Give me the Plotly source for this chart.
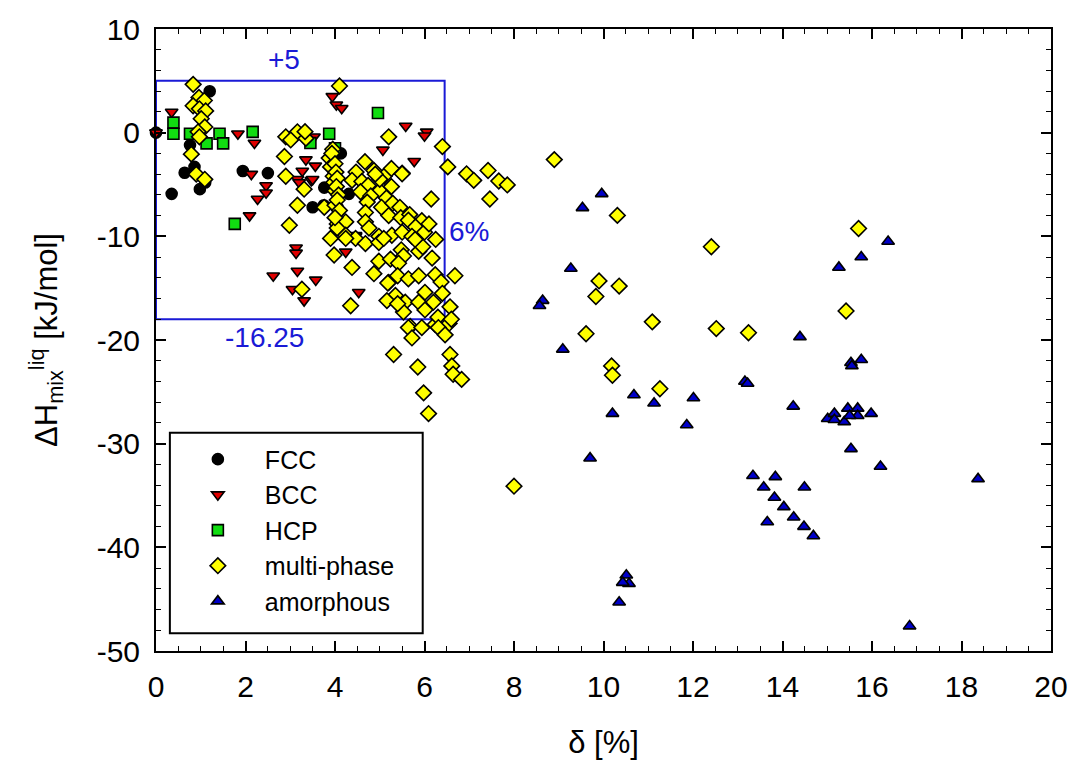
import plotly.graph_objects as go

# ---------------- data ----------------
fcc_x = [0.0, 0.35, 1.2, 0.76, 0.64, 0.98, 1.1, 0.86, 1.94, 2.5, 3.5, 4.13, 3.76, 4.31, 3.75]
fcc_y = [0.0, -5.9, 4.0, -1.2, -3.87, -5.45, -4.8, -3.3, -3.7, -3.9, -7.2, -2.0, -5.3, -5.9, -7.0]

bcc_x = [0.0, 0.35, 1.83, 2.2, 2.13, 2.46, 2.27, 2.46, 2.09, 3.53, 3.35, 3.16, 3.47, 3.2,
         3.94, 4.03, 4.15, 5.58, 6.05, 6.0, 5.07, 5.77, 3.56, 3.27, 3.5, 4.46, 4.24, 3.57,
         4.53, 3.13, 3.13, 2.62, 3.16, 3.05, 3.31, 4.46]
bcc_y = [0.0, 2.0, -0.1, -1.0, -4.0, -5.1, -6.4, -5.8, -8.0, -0.4, -2.6, -4.5, -4.6, -4.8,
         3.5, 2.7, 2.35, 0.65, 0.08, -0.3, -1.66, -2.76, -3.2, -3.7, -4.5, -9.9, -11.5, -14.2,
         -15.4, -11.1, -11.6, -13.8, -13.35, -15.1, -16.2, -10.0]

hcp_x = [0.39, 0.39, 0.76, 1.13, 1.42, 1.5, 2.16, 1.76, 3.45, 4.96, 3.87, 4.0]
hcp_y = [0.97, -0.1, -0.1, -1.03, -0.1, -1.03, 0.08, -8.8, -1.0, 1.9, -0.1, -1.5]

multi_x = [
    0.83, 0.96, 1.08, 0.83, 0.97, 1.11, 1.01, 1.09, 0.94, 0.97, 0.79, 0.90, 1.09,
    2.9, 3.16, 3.01, 3.35, 2.87, 2.9, 3.31, 3.16, 2.98, 3.33, 3.26,
    4.1, 5.2, 6.4, 6.52, 6.94, 7.1, 6.15, 5.5, 7.42, 7.66, 7.85, 7.46, 8.9,
    3.87, 3.9, 3.96, 3.97, 4.0, 3.76, 4.0, 4.05, 4.24, 3.9, 4.05, 4.24, 4.46, 3.98, 4.24,
    3.95, 3.93, 4.0, 4.02, 4.05, 4.03, 4.08, 4.05, 4.1, 4.0,
    4.67, 4.47, 4.38, 4.6, 4.87, 5.1, 5.26, 5.5, 4.74, 4.57, 5.0, 5.26, 4.8, 4.72, 5.15,
    5.04, 5.29, 5.45, 4.68, 5.2, 5.47, 5.67, 5.64, 5.94, 5.8, 4.68, 4.76, 4.98, 5.27, 5.5,
    5.72, 6.0, 5.0, 4.9, 6.1, 6.25,
    4.38, 4.87, 4.35, 4.68, 4.98, 5.09, 5.48, 4.98, 5.24, 5.53, 5.87, 5.96, 6.17, 5.79,
    5.42, 5.2, 5.4, 5.64, 5.87, 6.24, 6.01, 6.2, 6.37, 6.4, 5.35, 5.57, 5.87, 5.53, 5.68,
    6.01, 6.24, 6.55, 6.3, 5.16, 5.18, 5.4,
    6.68, 6.57, 6.6, 5.64, 5.94, 6.31, 6.46, 5.72, 5.31, 5.85, 6.57, 6.61, 6.64, 6.83,
    5.98, 6.09,
    10.31, 12.41, 9.9, 10.35, 9.83, 11.09, 12.52, 13.24, 9.61, 10.18, 10.2, 11.26,
    15.7, 15.42, 8.0]
multi_y = [
    4.66, 3.4, 3.1, 2.6, 2.3, 2.1, 1.34, 0.55, 0.08, -0.4, -2.07, -4.0, -4.5,
    -0.4, 0.08, -0.7, -0.55, -2.3, -4.2, -5.45, -7.0, -8.93, 0.1, -15.1,
    4.5, -0.4, -1.34, -3.3, -3.97, -4.6, -6.4, -3.9, -3.65, -4.66, -5.04, -6.4, -2.6,
    -2.45, -3.3, -4.2, -4.8, -5.6, -7.2, -7.0, -8.8, -8.6, -10.2, -9.2, -9.9, -10.2, -11.8, -10.2,
    -1.6, -2.0, -3.0, -3.8, -4.4, -5.2, -6.0, -6.5, -7.5, -8.2,
    -2.8, -3.8, -4.6, -4.7, -3.65, -4.2, -3.46, -3.97, -5.1, -5.7, -5.6, -5.2, -6.1, -6.7, -6.3,
    -7.2, -6.8, -7.2, -7.7, -8.0, -8.2, -7.9, -8.45, -8.5, -9.1, -8.6, -9.2, -10.0, -9.9, -9.6,
    -10.0, -9.6, -4.5, -4.0, -8.8, -10.3,
    -13.0, -13.6, -16.7, -10.7, -10.6, -10.2, -11.3, -12.4, -12.2, -11.9, -11.45, -11.0, -12.1, -10.3,
    -12.6, -14.45, -13.8, -14.1, -13.8, -13.7, -15.4, -16.35, -14.4, -15.5, -15.7, -16.35, -16.35, -17.3, -18.7,
    -17.1, -18.5, -18.4, -17.8, -16.2, -14.5, -16.5,
    -13.8, -16.8, -18.0, -18.8, -18.8, -18.8, -19.5, -19.8, -21.4, -22.6, -21.4, -22.5, -23.3, -23.8,
    -25.1, -27.1,
    -7.98, -11.0, -14.3, -14.8, -15.8, -18.25, -18.9, -19.3, -19.4, -22.5, -23.4, -24.7,
    -9.24, -17.2, -34.1]

amor_x = [9.96, 9.53, 9.27, 8.64, 8.57, 9.09, 10.68, 11.13, 12.01, 10.2, 11.86, 13.16, 13.22,
          16.36, 15.76, 15.26, 14.39, 15.53, 15.76, 15.55, 14.24, 15.01, 15.16, 15.16, 15.38,
          15.46, 15.68, 15.68, 15.98, 15.5, 15.53, 16.19, 9.70, 13.34, 13.84, 13.58, 14.49,
          13.82, 14.03, 14.25, 14.48, 14.69, 13.66, 18.37, 10.51, 10.57, 10.43, 10.35, 16.84]
amor_y = [-5.9, -7.25, -13.1, -16.2, -16.7, -20.9, -25.3, -26.1, -25.6, -27.1, -28.2, -24.0, -24.2,
          -10.5, -12.0, -13.0, -19.7, -22.2, -21.9, -22.5, -26.4, -27.6, -27.1, -27.7, -27.9,
          -26.6, -26.6, -27.3, -27.1, -27.3, -30.5, -32.2, -31.4, -33.1, -33.2, -34.2, -34.2,
          -35.2, -36.1, -37.1, -38.0, -38.9, -37.55, -33.4, -42.7, -43.5, -43.4, -45.3, -47.6]

# tick labels (hyphen minus, as in the original)
y_tickvals = [10, 0, -10, -20, -30, -40, -50]
y_ticktext = ["10", "0", "-10", "-20", "-30", "-40", "-50"]

# box of the criterion region and its labels
box_x = [0.0, 6.45]
box_y = [-18.0, 5.0]
box_labels = ["+5", "6%", "-16.25"]
box_label_x = [2.86, 7.0, 2.42]
box_label_y = [7.1, -9.5, -19.75]

# ---------------- figure ----------------
FONT = "Liberation Sans, Arial, sans-serif"
OUT = dict(color="black", width=1.6)

fig = go.Figure()
series = [
    ("FCC", fcc_x, fcc_y, "circle", "#000000", 11),
    ("BCC", bcc_x, bcc_y, "triangle-down", "#e00000", 11),
    ("HCP", hcp_x, hcp_y, "square", "#11dd11", 11),
    ("multi-phase", multi_x, multi_y, "diamond", "#ffff00", 12),
    ("amorphous", amor_x, amor_y, "triangle-up", "#0000c8", 11),
]
for name, xs, ys, sym, col, sz in series:
    fig.add_trace(go.Scatter(
        x=xs, y=ys, mode="markers", name=name, cliponaxis=False,
        marker=dict(symbol=sym, color=col, size=sz, line=OUT),
    ))

BLUE = "#1a1ad6"
fig.add_shape(type="rect", x0=box_x[0], x1=box_x[1], y0=box_y[0], y1=box_y[1],
              line=dict(color=BLUE, width=2), layer="below")
for t, lx, ly in zip(box_labels, box_label_x, box_label_y):
    fig.add_annotation(x=lx, y=ly, text=t, showarrow=False,
                       xanchor="center", yanchor="middle",
                       font=dict(size=28, color=BLUE, family=FONT))

# legend frame
fig.add_shape(type="rect", xref="paper", yref="paper",
              x0=0.0155, x1=0.298, y0=0.0286, y1=0.351,
              line=dict(color="black", width=2), fillcolor="white", layer="below")

axis_common = dict(
    showline=True, linecolor="black", linewidth=2, mirror="ticks",
    ticks="inside", ticklen=10, tickwidth=1.6, tickcolor="black",
    showgrid=False, zeroline=False,
    tickfont=dict(size=30, color="black", family=FONT),
)
fig.update_xaxes(range=[0, 20], dtick=2, tick0=0,
                 minor=dict(dtick=0.5, ticklen=5, tickwidth=1.4, ticks="inside", tickcolor="black"),
                 title=dict(text="δ [%]", font=dict(size=31, color="black", family=FONT), standoff=29),
                 ticklabelstandoff=8, **axis_common)
fig.update_yaxes(range=[-50, 10], tickmode="array", tickvals=y_tickvals, ticktext=y_ticktext,
                 minor=dict(dtick=2, ticklen=5, tickwidth=1.4, ticks="inside", tickcolor="black"),
                 title=dict(text="ΔH<sub>mix</sub><sup>liq</sup> [kJ/mol]",
                            font=dict(size=31, color="black", family=FONT), standoff=30),
                 ticklabelstandoff=8, **axis_common)

fig.update_layout(
    width=1080, height=771,
    margin=dict(l=156, r=22, t=22, b=120),
    plot_bgcolor="white", paper_bgcolor="white",
    showlegend=True,
    legend=dict(x=0.0166, y=0.345, xanchor="left", yanchor="top",
                bgcolor="rgba(0,0,0,0)", borderwidth=0,
                font=dict(size=25, color="black", family=FONT),
                itemwidth=84),
    font=dict(family=FONT),
)

fig.write_html("out.html")
